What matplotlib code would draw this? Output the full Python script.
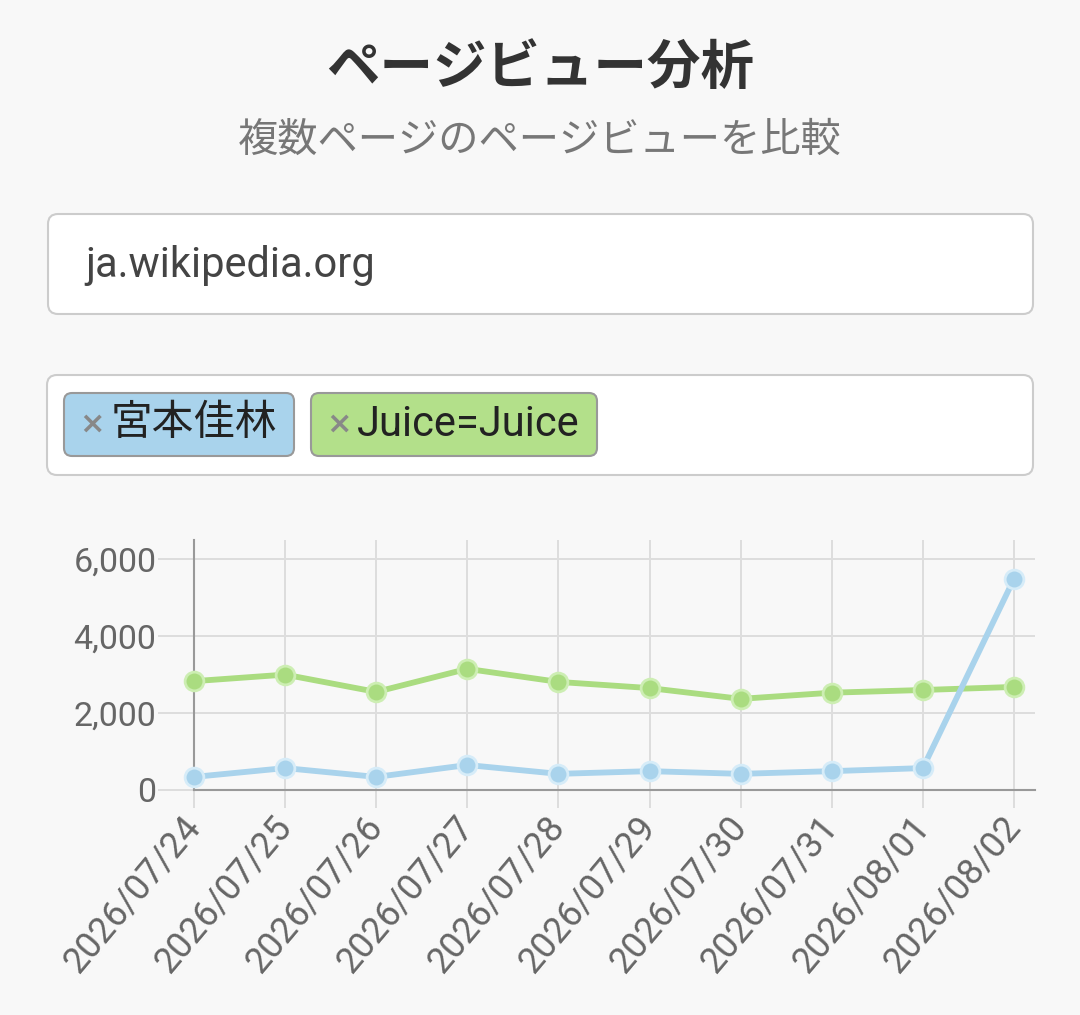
import numpy as np
import matplotlib
matplotlib.use("Agg")
import matplotlib.pyplot as plt
from matplotlib.patches import FancyBboxPatch
from matplotlib.ticker import FuncFormatter

plt.rcParams['font.family'] = ['Roboto', 'Noto Sans CJK JP', 'DejaVu Sans']

# data
dates = ['2026/07/24', '2026/07/25', '2026/07/26', '2026/07/27', '2026/07/28',
         '2026/07/29', '2026/07/30', '2026/07/31', '2026/08/01', '2026/08/02']
miyamoto = [340, 570, 340, 650, 420, 490, 420, 490, 570, 5490]
juice = [2830, 3000, 2550, 3150, 2810, 2650, 2370, 2530, 2600, 2680]
y_ticks = [0, 2000, 4000, 6000]

title = 'ページビュー分析'
subtitle = '複数ページのページビューを比較'
project = 'ja.wikipedia.org'
tags = ['宮本佳林', 'Juice=Juice']

blue = '#a9d3ec'
green = '#aadc80'
W, H = 1080, 1015

fig = plt.figure(figsize=(W / 100, H / 100), dpi=100, facecolor='#f8f8f8')

# page background / widgets drawn in pixel coords
bg = fig.add_axes([0, 0, 1, 1])
bg.set_xlim(0, W)
bg.set_ylim(H, 0)
bg.axis('off')

jp = ['Noto Sans CJK JP', 'DejaVu Sans']
bg.text(540, 68, title, ha='center', va='center', fontsize=38.5,
        fontweight='bold', color='#333333', family=jp)
bg.text(540, 140, subtitle, ha='center', va='center', fontsize=29,
        color='#777777', family=jp)


def box(x0, y0, x1, y1, fc, ec, r=10, lw=1.5):
    p = FancyBboxPatch((x0 + r, y0 + r), (x1 - x0) - 2 * r, (y1 - y0) - 2 * r,
                       boxstyle='round,pad=%d' % r, fc=fc, ec=ec, lw=lw)
    bg.add_patch(p)


box(48, 214, 1033, 314, 'white', '#cccccc')
bg.text(85, 266, project, ha='left', va='center', fontsize=30, color='#444444')

box(47, 375, 1033, 475, 'white', '#cccccc')
box(64, 393, 294, 456, blue, '#999999', r=8)
box(311, 393, 597, 456, '#b3e08a', '#999999', r=8)
bg.text(92, 424, '×', ha='center', va='center', fontsize=22,
        fontweight='bold', color='#888888', family=['DejaVu Sans'])
bg.text(111, 424, tags[0], ha='left', va='center', fontsize=30,
        color='#222222', family=jp)
bg.text(339, 424, '×', ha='center', va='center', fontsize=22,
        fontweight='bold', color='#888888', family=['DejaVu Sans'])
bg.text(357, 425, tags[1], ha='left', va='center', fontsize=30, color='#222222')

# chart
ax = fig.add_axes([194 / W, (H - 790) / H, 841 / W, 250 / H])
ax.set_facecolor('none')
x = np.arange(len(dates))
ax.plot(x, juice, color=green, lw=4.2, marker='o', ms=13.5,
        mfc=green, mec='#cdeeb3', mew=2, zorder=3, clip_on=False)
ax.plot(x, miyamoto, color=blue, lw=4.2, marker='o', ms=13.5,
        mfc=blue, mec='#d6ecf8', mew=2, zorder=4, clip_on=False)

ax.set_xlim(0, 9 * 841 / 820)
ax.set_ylim(0, 6500)
ax.set_yticks(y_ticks)
ax.yaxis.set_major_formatter(FuncFormatter(lambda v, p: f'{int(v):,}'))
ax.set_xticks(x)
ax.set_xticklabels(dates, rotation=50, ha='right', va='center',
                   rotation_mode='anchor')

ax.grid(True, color='#dddddd', lw=1.4, zorder=0)
ax.set_axisbelow(True)
for s in ['top', 'right']:
    ax.spines[s].set_visible(False)
ax.spines['left'].set_color('#999999')
ax.spines['bottom'].set_color('#999999')
ax.spines['left'].set_linewidth(1.5)
ax.spines['bottom'].set_linewidth(1.5)
ax.tick_params(axis='y', length=26, width=1.4, color='#dddddd', pad=1,
               labelsize=24.5, labelcolor='#666666')
ax.tick_params(axis='x', length=13, width=1.4, color='#dddddd', pad=9,
               labelsize=26, labelcolor='#666666')

fig.savefig('out.png', dpi=100, facecolor=fig.get_facecolor())
